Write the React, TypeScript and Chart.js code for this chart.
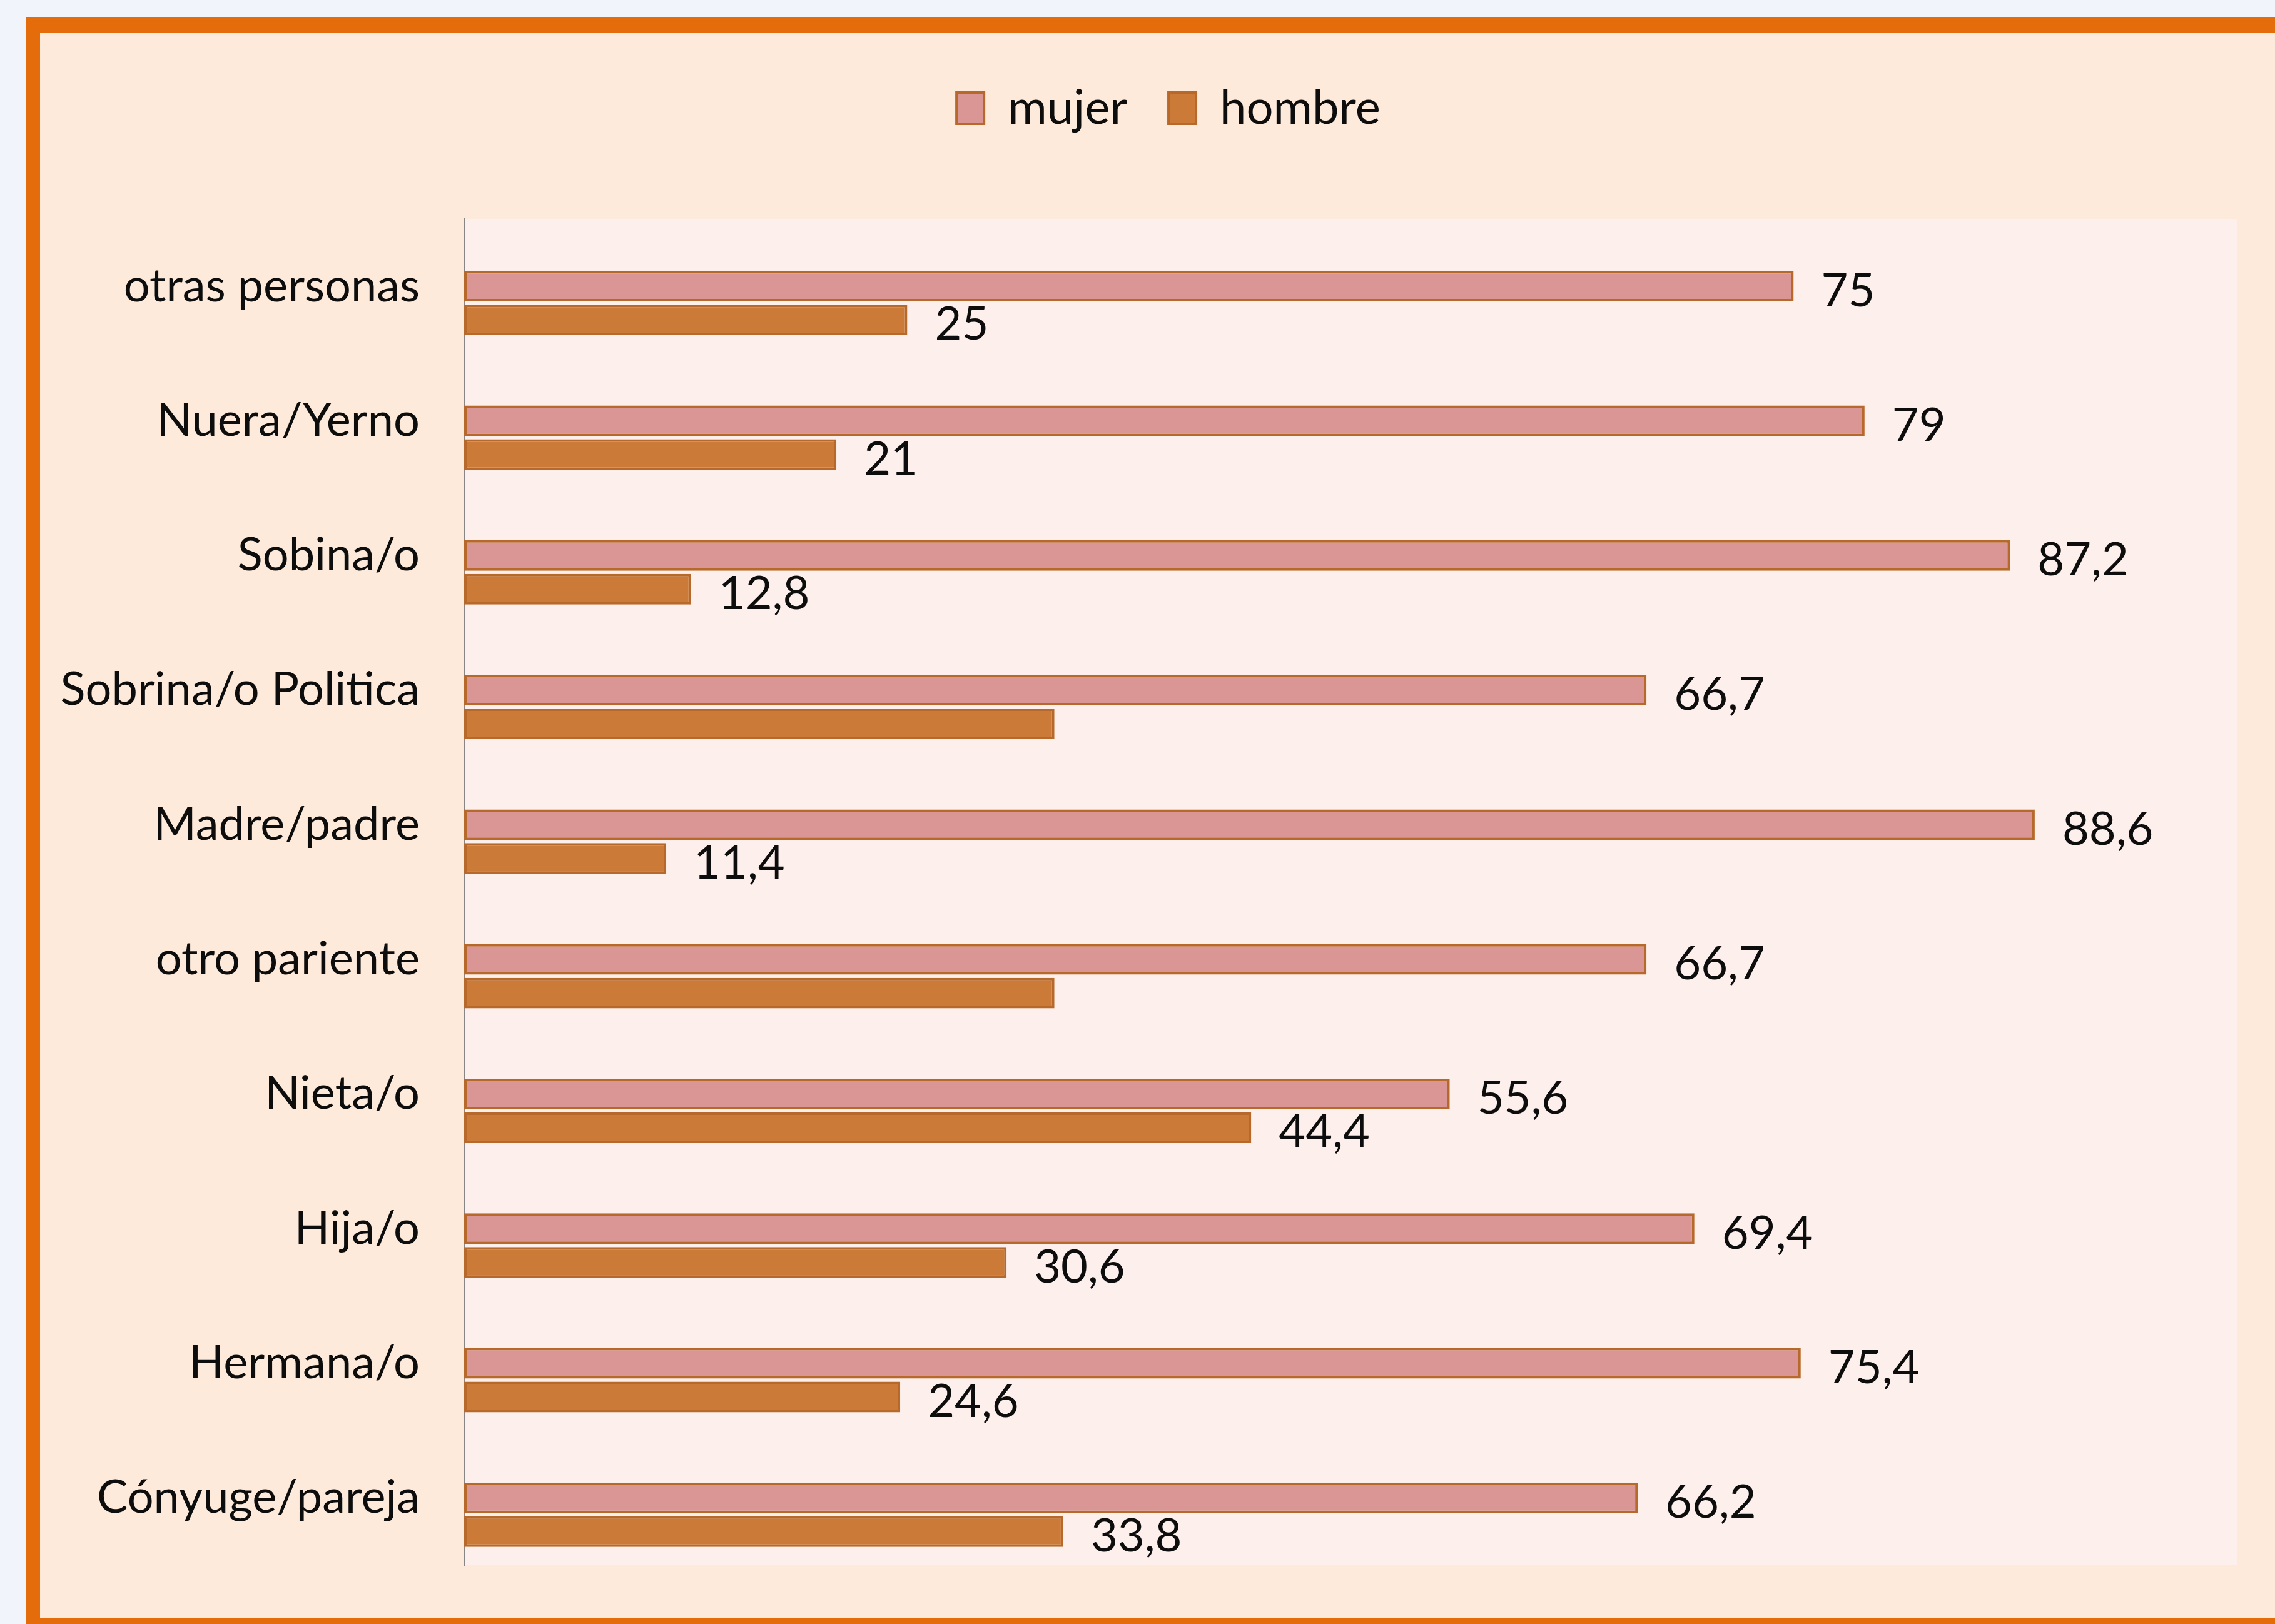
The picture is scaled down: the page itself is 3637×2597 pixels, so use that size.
import React, { useEffect, useRef } from 'react';
import { Chart, registerables } from 'chart.js';

Chart.register(...registerables);

// ---- data ----
const categories = [
  'otras personas',
  'Nuera/Yerno',
  'Sobina/o',
  'Sobrina/o Politica',
  'Madre/padre',
  'otro pariente',
  'Nieta/o',
  'Hija/o',
  'Hermana/o',
  'Cónyuge/pareja',
];
const seriesNames = ['mujer', 'hombre'];
const mujerValues = [75, 79, 87.2, 66.7, 88.6, 66.7, 55.6, 69.4, 75.4, 66.2];
const hombreValues = [25, 21, 12.8, 33.3, 11.4, 33.3, 44.4, 30.6, 24.6, 33.8];
const mujerLabels = ['75', '79', '87,2', '66,7', '88,6', '66,7', '55,6', '69,4', '75,4', '66,2'];
const hombreLabels = ['25', '21', '12,8', '', '11,4', '', '44,4', '30,6', '24,6', '33,8'];
const xRange = [0, 100];

// ---- style ----
const FONT = "Lato, 'Liberation Sans', sans-serif";
const FONT_SIZE = 74;
const LEGEND_FONT_SIZE = 76;
const TEXT_COLOR = '#0D0D0D';
const W = 3637;
const H = 2597;
const LEGEND_TOP = 69;

export default function App() {
  const ref = useRef<HTMLCanvasElement | null>(null);

  useEffect(() => {
    const canvas = ref.current;
    if (!canvas) return;

    const plotBg = {
      id: 'plotBg',
      beforeDraw(chart: any) {
        const { ctx, chartArea } = chart;
        ctx.save();
        ctx.fillStyle = '#FDEFEB';
        ctx.fillRect(chartArea.left, chartArea.top, chartArea.right - chartArea.left, chartArea.bottom - chartArea.top);
        ctx.restore();
      },
    };

    const legendTweak = {
      id: 'legendTweak',
      beforeLayout(chart: any) {
        const lg = chart.legend;
        if (lg && !lg._patched) {
          const orig = lg.fit;
          lg.fit = function () {
            orig.call(this);
            this.height = 350 - LEGEND_TOP;
          };
          lg._patched = true;
        }
      },
      afterLayout(chart: any) {
        const lg = chart.legend;
        if (lg) {
          lg.left += 48;
          lg.right += 48;
        }
      },
    };

    const valueLabels = {
      id: 'valueLabels',
      afterDatasetsDraw(chart: any) {
        const ctx = chart.ctx;
        ctx.save();
        ctx.font = `${FONT_SIZE}px ${FONT}`;
        ctx.fillStyle = TEXT_COLOR;
        ctx.textAlign = 'left';
        ctx.textBaseline = 'middle';
        const sets = [
          { idx: 1, labels: mujerLabels },
          { idx: 2, labels: hombreLabels },
        ];
        sets.forEach(({ idx, labels }) => {
          const meta = chart.getDatasetMeta(idx);
          meta.data.forEach((el: any, i: number) => {
            const t = labels[i];
            if (!t) return;
            ctx.fillText(t, el.x + 44, el.y + 8);
          });
        });
        ctx.restore();
      },
    };

    const chart = new Chart(canvas, {
      type: 'bar',
      data: {
        labels: categories,
        datasets: [
          {
            label: '',
            data: [],
            backgroundColor: 'rgba(0,0,0,0)',
            borderWidth: 0,
          },
          {
            label: seriesNames[0],
            data: mujerValues,
            backgroundColor: '#D99694',
            borderColor: '#B7692B',
            borderWidth: 4,
            borderSkipped: false,
          },
          {
            label: seriesNames[1],
            data: hombreValues,
            backgroundColor: '#CB7A37',
            borderColor: '#B7692B',
            borderWidth: 4,
            borderSkipped: false,
          },
        ],
      },
      options: {
        indexAxis: 'y',
        responsive: false,
        animation: false,
        datasets: {
          bar: {
            categoryPercentage: 0.752,
            barPercentage: 0.907,
          },
        },
        layout: { padding: { left: 64, top: LEGEND_TOP, right: 61, bottom: 94 } },
        scales: {
          x: { display: false, min: xRange[0], max: xRange[1] },
          y: {
            grid: { display: false },
            border: { display: true, color: '#868686', width: 3 },
            ticks: {
              color: TEXT_COLOR,
              font: { family: FONT, size: FONT_SIZE },
              padding: 63,
            },
            afterFit: (scale: any) => {
              scale.width = 678;
              scale.paddingTop = 0;
              scale.paddingBottom = 0;
            },
          },
        },
        plugins: {
          legend: {
            position: 'top',
            labels: {
              filter: (item: any) => item.datasetIndex !== 0,
              boxWidth: 44,
              boxHeight: 50,
              padding: 66,
              color: TEXT_COLOR,
              font: { family: FONT, size: LEGEND_FONT_SIZE },
            },
          },
          tooltip: { enabled: false },
        },
      } as any,
      plugins: [plotBg, legendTweak, valueLabels],
    });

    return () => chart.destroy();
  }, []);

  return (
    <div
      style={{
        position: 'absolute',
        left: 0,
        top: 0,
        width: W,
        height: H,
        overflow: 'hidden',
        background: '#F1F5FB',
      }}
    >
      <div
        style={{
          position: 'absolute',
          left: 41,
          top: 27,
          width: 3700,
          height: 2535,
          borderStyle: 'solid',
          borderColor: '#E46C0A',
          borderTopWidth: 26,
          borderLeftWidth: 23,
          borderBottomWidth: 24,
          borderRightWidth: 24,
          background: '#FDEADA',
        }}
      />
      <canvas
        ref={ref}
        width={W}
        height={H}
        style={{ position: 'absolute', left: 0, top: 0, width: W, height: H }}
      />
    </div>
  );
}
